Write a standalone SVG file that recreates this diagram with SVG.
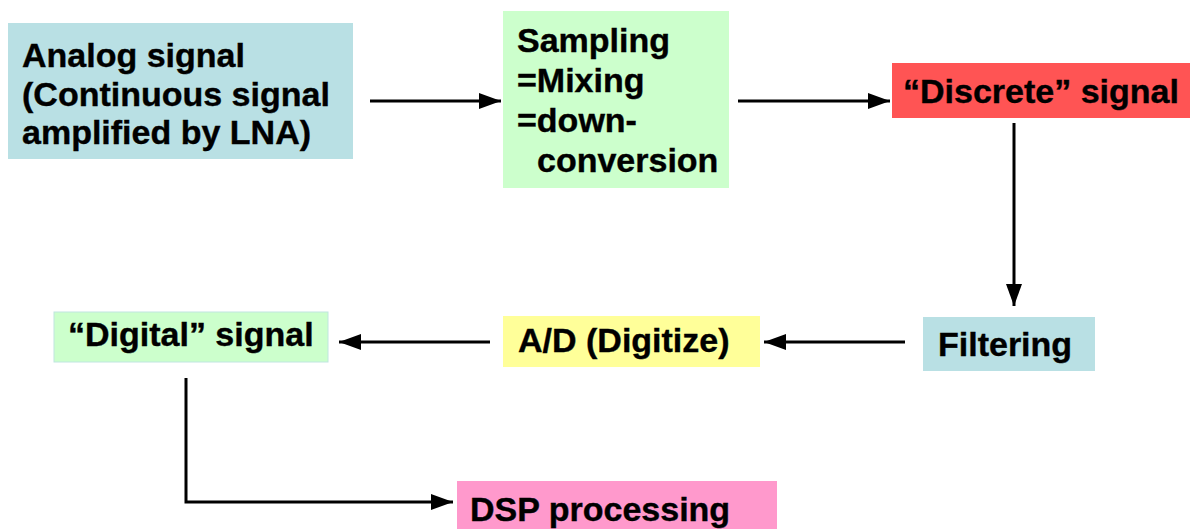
<svg xmlns="http://www.w3.org/2000/svg" width="1192" height="529" viewBox="0 0 1192 529">
<style>
text{font-family:"Liberation Sans",Arial,sans-serif;font-weight:bold;font-size:34px;fill:#000;stroke:#000;stroke-width:0.4}
.ln{stroke:#000;stroke-width:3;fill:none}
</style>
<defs>
<marker id="ah" markerUnits="userSpaceOnUse" markerWidth="24" markerHeight="20" refX="22" refY="10" orient="auto">
<path d="M0,2 L22,10 L0,18 Z" fill="#000"/>
</marker>
</defs>
<rect width="1192" height="529" fill="#fff"/>
<g id="analog">
<rect x="8" y="23" width="345" height="136" fill="#B9E0E4"/>
<text x="22" y="67">Analog signal</text>
<text x="22" y="106">(Continuous signal</text>
<text x="22" y="144">amplified by LNA)</text>
</g>
<g id="sampling">
<rect x="503" y="11" width="226" height="177" fill="#CCFFCC"/>
<text x="517" y="52">Sampling</text>
<text x="517" y="92">=Mixing</text>
<text x="517" y="132">=down-</text>
<text x="537" y="172">conversion</text>
</g>
<g id="discrete">
<rect x="892" y="63" width="298" height="55" fill="#FF5454"/>
<text x="903" y="103">“Discrete” signal</text>
</g>
<g id="filtering">
<rect x="923" y="317" width="172" height="54" fill="#B9E0E4"/>
<text x="938" y="356">Filtering</text>
</g>
<g id="ad">
<rect x="503" y="316" width="257" height="51" fill="#FFFF99"/>
<text x="518" y="352">A/D (Digitize)</text>
</g>
<g id="digital">
<rect x="54" y="312" width="274" height="50" fill="#CCFFCC" stroke="#BFE6E0" stroke-width="1"/>
<text x="68" y="346">“Digital” signal</text>
</g>
<g id="dsp">
<rect x="457" y="481" width="320" height="50" fill="#FF99CC"/>
<text x="470" y="521">DSP processing</text>
</g>
<g id="connectors">
<line class="ln" x1="370" y1="101" x2="501" y2="101" marker-end="url(#ah)"/>
<line class="ln" x1="738" y1="101" x2="890" y2="101" marker-end="url(#ah)"/>
<line class="ln" x1="1014" y1="123" x2="1014" y2="306" marker-end="url(#ah)"/>
<line class="ln" x1="905" y1="342" x2="764" y2="342" marker-end="url(#ah)"/>
<line class="ln" x1="490" y1="342" x2="339" y2="342" marker-end="url(#ah)"/>
<polyline class="ln" points="186,378 186,502 453,502" marker-end="url(#ah)"/>
</g>
</svg>
